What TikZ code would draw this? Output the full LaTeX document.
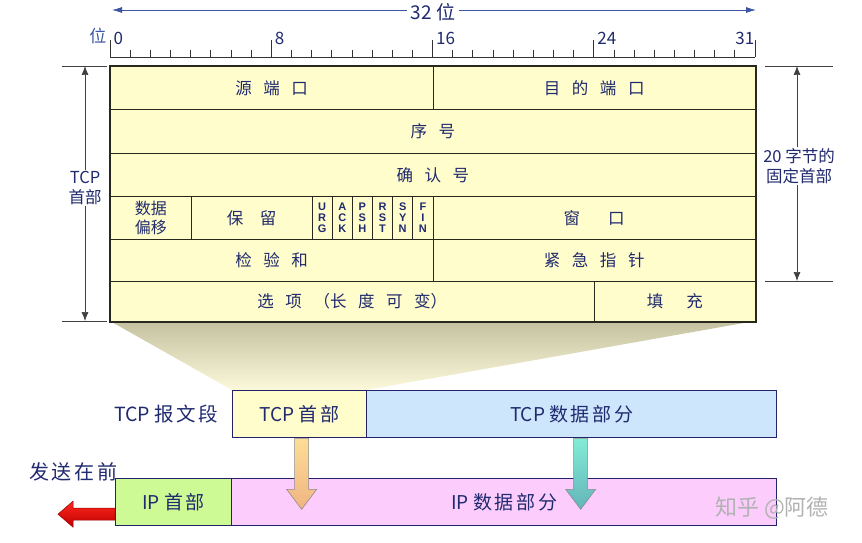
\documentclass[tikz,border=0pt]{standalone}
\usepackage{fontspec}
\setmainfont{Liberation Sans}
\newfontfamily\cjk{Noto Sans CJK SC}
\usetikzlibrary{arrows.meta}
\definecolor{navy}{RGB}{32,42,110}
\definecolor{rulerblue}{RGB}{60,85,165}
\definecolor{tblfill}{RGB}{255,253,204}
\definecolor{cellline}{RGB}{40,40,30}
\definecolor{boxline}{RGB}{35,35,105}
\definecolor{tcpdfill}{RGB}{206,230,252}
\definecolor{iphfill}{RGB}{206,250,150}
\definecolor{ipdfill}{RGB}{252,204,252}
\newcommand\kk{\hspace{0.7em}}
\newcommand\tk{\hspace{0.14em}}
\tikzset{
  cell/.style={draw=cellline, fill=tblfill, line width=0.9pt, inner sep=0pt,
    anchor=north west, text=navy, align=center, font=\cjk\fontsize{16.5}{19}\selectfont},
  flagcell/.style={cell, font=\fontsize{11}{10.8}\selectfont\bfseries},
  dimline/.style={draw=black!75, line width=0.7pt},
  dimarrow/.style={draw=black!75, line width=0.7pt, -{Latex[length=9pt,width=7pt]}},
  pktbox/.style={draw=boxline, line width=1.3pt, inner sep=0pt, anchor=north west,
    text=navy, font=\cjk\fontsize{19}{22}\selectfont},
  lbl/.style={text=navy, inner sep=1pt, align=center, font=\cjk\fontsize{16.5}{19.5}\selectfont},
}
\begin{document}
\begin{tikzpicture}[x=1pt,y=-1pt]
\useasboundingbox (0,0) rectangle (862,543);
\fill[white] (0,0) rectangle (862,543);

% shadow trapezoid
\shade[top color={rgb,255:red,196;green,193;blue,160}, bottom color={rgb,255:red,252;green,248;blue,218}]
  (110,321) -- (755,321) -- (366,390) -- (232,390) -- cycle;

% table cells
\node[cell, minimum width=322.5pt, minimum height=43pt] (src) at (110,66) {源\kk 端\kk 口};
\node[cell, minimum width=322.5pt, minimum height=43pt] (dst) at (432.5,66) {目\kk 的\kk 端\kk 口};
\node[cell, minimum width=645pt, minimum height=44pt] (seq) at (110,109) {序\kk 号};
\node[cell, minimum width=645pt, minimum height=43pt] (ack) at (110,153) {确\kk 认\kk 号};
\node[cell, minimum width=80.62pt, minimum height=43pt, font=\cjk\fontsize{16}{19}\selectfont] (off) at (110,196) {数据\\偏移};
\node[cell, minimum width=120.94pt, minimum height=43pt] (rsv) at (190.62,196) {保\kk\hspace{0.3em}留};
\node[flagcell, minimum width=20.16pt, minimum height=43pt] (furg) at (311.56,196) {U\\R\\G};
\node[flagcell, minimum width=20.16pt, minimum height=43pt] (fack) at (331.72,196) {A\\C\\K};
\node[flagcell, minimum width=20.16pt, minimum height=43pt] (fpsh) at (351.87,196) {P\\S\\H};
\node[flagcell, minimum width=20.16pt, minimum height=43pt] (frst) at (372.03,196) {R\\S\\T};
\node[flagcell, minimum width=20.16pt, minimum height=43pt] (fsyn) at (392.18,196) {S\\Y\\N};
\node[flagcell, minimum width=20.16pt, minimum height=43pt] (ffin) at (412.34,196) {F\\I\\N};
\node[cell, minimum width=322.5pt, minimum height=43pt] (win) at (432.5,196) {窗\kk\hspace{1em}口};
\node[cell, minimum width=322.5pt, minimum height=42pt] (chk) at (110,239) {检\kk 验\kk 和};
\node[cell, minimum width=322.5pt, minimum height=42pt] (urg) at (432.5,239) {紧\kk 急\kk 指\kk 针};
\node[cell, minimum width=483.74pt, minimum height=40pt] (opt) at (110,281) {选\kk 项\kk （长\kk 度\kk 可\kk 变）};
\node[cell, minimum width=161.26pt, minimum height=40pt] (pad) at (593.74,281) {填\kk\hspace{0.7em}充};
\draw[cellline, line width=1.8pt] (src.north west) rectangle (pad.south east);

% ruler
\draw[black!80, line width=0.7pt] (110,57) -- (755,57);
\foreach \i in {0,...,32}{
  \pgfmathsetmacro\xx{110+\i*20.156}
  \pgfmathparse{mod(\i,8)==0 ? 1 : 0}
  \ifnum\pgfmathresult=1
    \draw[black!80, line width=0.7pt] (\xx,57) -- (\xx,40);
  \else
    \draw[black!80, line width=0.7pt] (\xx,57) -- (\xx,50.5);
  \fi
}
\foreach \i/\t in {0/0,8/8,16/16,24/24}{
  \node[text=navy, anchor=south west, inner sep=1.5pt, font=\cjk\fontsize{17}{17}\selectfont]
    (bit\i) at ({110+\i*20.156+2},46) {\t};
}
\node[text=navy, anchor=south east, inner sep=1.5pt, font=\cjk\fontsize{17}{17}\selectfont] (bit31) at (756,46) {31};
\node[text=rulerblue, anchor=south east, inner sep=1.5pt, font=\cjk\fontsize{17}{17}\selectfont] (wei) at (108,46) {位};

% 32 bits arrow
\node[text=navy, inner sep=4pt, font=\cjk\fontsize{19}{19}\selectfont] (w32) at (433,12) {32 位};
\coordinate (w32l) at (112,10);
\coordinate (w32r) at (756,10);
\draw[rulerblue, line width=0.8pt, -{Latex[length=10pt,width=6pt]}] (w32.west |- w32l) -- (w32l);
\draw[rulerblue, line width=0.8pt, -{Latex[length=10pt,width=6pt]}] (w32.east |- w32r) -- (w32r);

% left dimension
\draw[dimline] (62,66) -- (107,66);
\draw[dimline] (62,321) -- (107,321);
\node[lbl, fill=white] (tcphdr) at (85,188) {TCP\\首部};
\coordinate (lt) at (85,66);
\coordinate (lb) at (85,321);
\draw[dimarrow] (tcphdr.north) -- (lt);
\draw[dimarrow] (tcphdr.south) -- (lb);

% right dimension
\draw[dimline] (765,66) -- (833,66);
\draw[dimline] (765,281) -- (833,281);
\node[lbl, fill=white] (fixed) at (799,166) {20 字节的\\固定首部};
\coordinate (rt) at (797,66);
\coordinate (rb) at (797,281);
\draw[dimarrow] (fixed.north -| rt) -- (rt);
\draw[dimarrow] (fixed.south -| rb) -- (rb);

% TCP segment row
\node[pktbox, fill=tblfill, minimum width=134pt, minimum height=47pt] (tcph) at (232,390) {TCP 首\tk 部};
\node[pktbox, fill=tcpdfill, minimum width=410pt, minimum height=47pt] (tcpd) at (366,390) {TCP 数\tk 据\tk 部\tk 分};
\node[text=navy, anchor=east, font=\cjk\fontsize{19.5}{22}\selectfont] (seglbl) at (222,414) {TCP 报\tk 文\tk 段};

% IP row
\node[pktbox, fill=iphfill, minimum width=116pt, minimum height=47pt] (iph) at (115,478) {IP 首\tk 部};
\node[pktbox, fill=ipdfill, minimum width=545pt, minimum height=47pt] (ipd) at (231,478) {IP 数\tk 据\tk 部\tk 分};
\node[text=navy, anchor=south west, inner sep=1pt, font=\cjk\fontsize{20}{22}\selectfont] (send) at (28,482) {发\tk 送\tk 在\tk 前};

% watermark
\node[text=black!30, font=\cjk\fontsize{22}{22}\selectfont] (wm) at (772,508) {知乎 @阿德};

% down arrows
\draw[black!45, line width=0.6pt, top color={rgb,255:red,252;green,222;blue,150}, bottom color={rgb,255:red,240;green,180;blue,130}]
  ([xshift=-5pt]tcph.south) -- ++(0,51) -- ++(-8,0) -- ++(15,20) -- ++(15,-20) -- ++(-8,0) -- ++(0,-51) -- cycle;
\draw[black!45, line width=0.6pt, top color={rgb,255:red,130;green,236;blue,214}, bottom color={rgb,255:red,100;green,180;blue,185}]
  ([xshift=2pt]tcpd.south) -- ++(0,51) -- ++(-8,0) -- ++(15,20) -- ++(15,-20) -- ++(-8,0) -- ++(0,-51) -- cycle;

% red send arrow
\draw[red!60!black, line width=0.5pt, top color={rgb,255:red,255;green,40;blue,30}, bottom color={rgb,255:red,190;green,0;blue,0}]
  ([yshift=-6pt]iph.west) -- ++(-42,0) -- ++(0,-7) -- ++(-15,13) -- ++(15,13) -- ++(0,-7) -- ++(42,0) -- cycle;
\end{tikzpicture}
\end{document}
